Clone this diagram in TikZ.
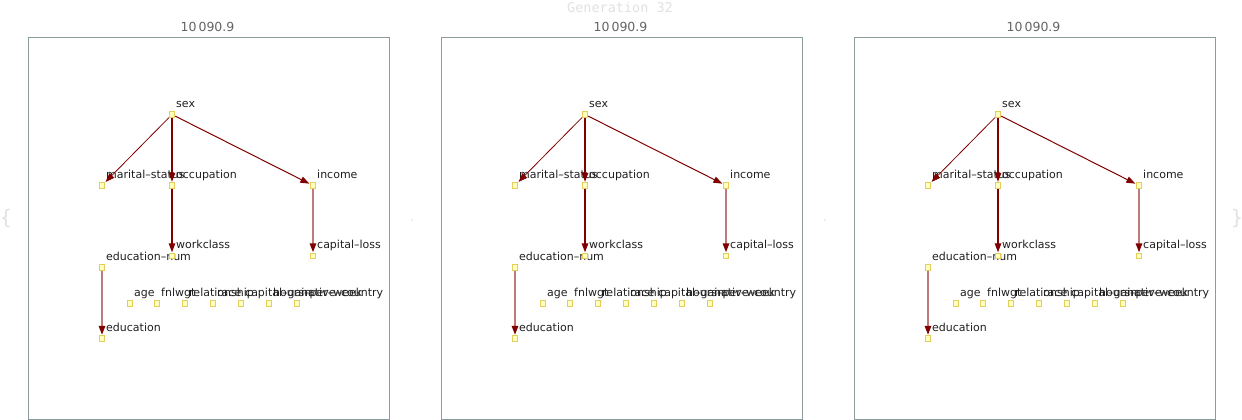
\documentclass[tikz,border=0pt]{standalone}
\usepackage{fontspec}
\setmainfont{DejaVu Sans}
\newfontfamily\monof{DejaVu Sans Mono}
\usetikzlibrary{arrows.meta}
\definecolor{edgedark}{RGB}{128,0,0}
\definecolor{edgelight}{RGB}{192,122,122}
\definecolor{vfill}{RGB}{255,255,192}
\definecolor{vdraw}{RGB}{228,205,90}
\definecolor{framec}{RGB}{140,156,156}
\definecolor{titlec}{RGB}{100,100,100}
\definecolor{faintc}{RGB}{225,225,225}
\tikzset{
  vert/.style={draw=vdraw, fill=vfill, minimum size=5.5pt, inner sep=0pt, line width=0.9pt},
  lab/.style={anchor=base west, inner sep=0pt, font=\fontsize{11}{13}\selectfont, text=black!88},
  tip/.style={-{Triangle[length=9pt,width=6.5pt,color=edgedark]}, shorten >=0.5pt},
  darkedge/.style={tip, draw=edgedark, line width=1.3pt},
  thinedge/.style={tip, draw=edgedark, line width=0.8pt},
  lightedge/.style={tip, draw=edgelight, line width=1.6pt},
  frame/.style={draw=framec, line width=1pt},
  ttl/.style={font=\fontsize{12.5}{14}\selectfont, text=titlec, inner sep=0pt},
  faint/.style={text=faintc, inner sep=0pt}
}
\begin{document}
\begin{tikzpicture}[x=1pt,y=-1pt]
\useasboundingbox (0,0) rectangle (1242,420);
\node[faint, font=\monof\fontsize{13.5}{15}\selectfont] (gen) at (620,7) {Generation 32};
\node[faint, font=\fontsize{20}{22}\selectfont] (lbr) at (6,219) {\{};
\node[faint, font=\fontsize{11}{13}\selectfont] (c1) at (412,220) {,};
\node[faint, font=\fontsize{11}{13}\selectfont] (c2) at (825,220) {,};
\node[faint, font=\fontsize{20}{22}\selectfont] (rbr) at (1237,219) {\}};
\foreach \i/\ox in {1/0,2/413,3/826}{
  \begin{scope}[xshift=\ox pt]
    \node[frame, anchor=north west, minimum width=361pt, minimum height=381pt, inner sep=0pt] (box\i) at (27.5,37.5) {};
    \node[ttl] (title\i) at (207.5,27) {10\,090.9};
    \foreach \n/\x/\y/\t in {sex/172/114.5/sex, ms/102/185.5/marital–status, occ/172/185.5/occupation, inc/313/185.5/income,
        wc/172/256/workclass, cl/313/256/capital–loss, en/102/267.5/education–num, ed/102/338.5/education,
        age/130/303.5/age, fw/157/303.5/fnlwgt, rel/185/303.5/relationship, race/213/303.5/race,
        cg/241/303.5/capital–gain, hpw/269/303.5/hours–per–week, nc/297/303.5/native–country}{
      \node[lab] (l\n\i) at (\x+4,\y-7.5) {\t};
    }
    \foreach \n/\x/\y in {sex/172/114.5, ms/102/185.5, occ/172/185.5, inc/313/185.5,
        wc/172/256, cl/313/256, en/102/267.5, ed/102/338.5,
        age/130/303.5, fw/157/303.5, rel/185/303.5, race/213/303.5,
        cg/241/303.5, hpw/269/303.5, nc/297/303.5}{
      \node[vert] (\n\i) at (\x,\y) {};
    }
    \draw[thinedge] (sex\i) -- (ms\i);
    \draw[darkedge] (sex\i) -- (occ\i);
    \draw[thinedge, line width=1pt] (sex\i) -- (inc\i);
    \draw[darkedge] (occ\i) -- (wc\i);
    \draw[lightedge] (inc\i) -- (cl\i);
    \draw[lightedge] (en\i) -- (ed\i);
  \end{scope}
}
\end{tikzpicture}
\end{document}
